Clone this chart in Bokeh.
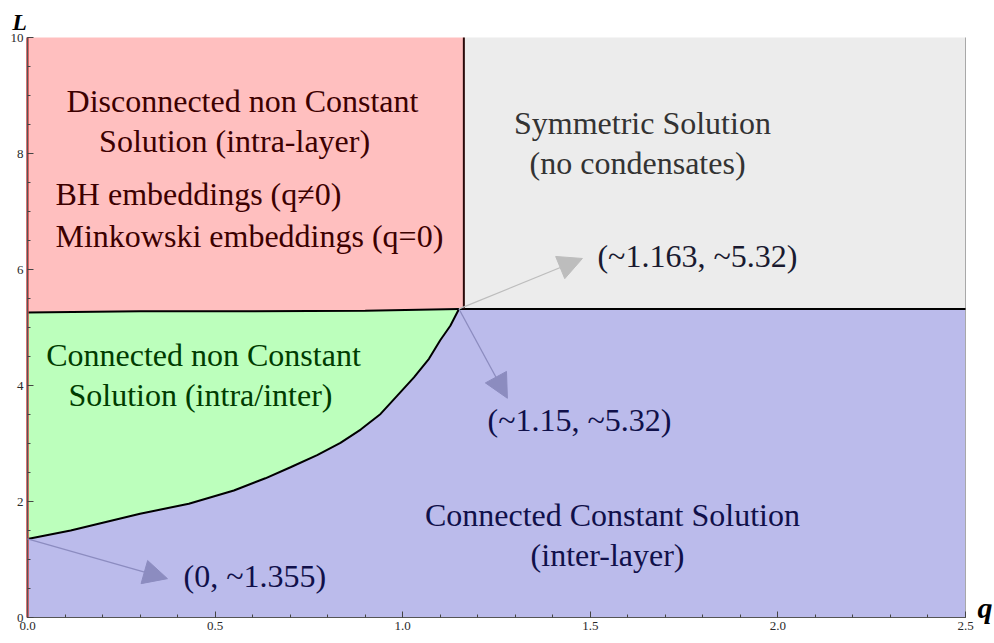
from bokeh.plotting import figure
from bokeh.models import (Range1d, SingleIntervalTicker, PrintfTickFormatter,
                          Label, Arrow, NormalHead)
from bokeh.embed import file_html
from bokeh.resources import INLINE

# ---- data ----
Q_MAX = 2.5
L_MAX = 10.0
q_vertical = 1.163          # red / grey boundary
L_horizontal = 5.32         # grey / blue boundary
q_triple = 1.15             # triple point

# top of the green (connected non-constant) region
green_top_q = [0.0, 0.3, 0.6, 0.9, 1.15]
green_top_L = [5.26, 5.28, 5.28, 5.29, 5.32]

# lower boundary of the green region (from q=0 up to the triple point)
curve_q = [0.0, 0.115, 0.30, 0.43, 0.55, 0.634, 0.701, 0.772, 0.834, 0.888,
           0.941, 0.985, 1.03, 1.07, 1.10, 1.127, 1.15]
curve_L = [1.355, 1.50, 1.79, 1.96, 2.19, 2.40, 2.59, 2.80, 3.01, 3.24,
           3.51, 3.82, 4.14, 4.46, 4.78, 5.03, 5.32]

# arrows: (start q, start L, end q, end L)
arrow_origin = [(0.0, 1.355, 0.373, 0.67),
                (1.15, 5.32, 1.479, 6.19),
                (1.15, 5.32, 1.279, 3.78)]
arrow_colors = ["#8c8cc0", "#bdbdbd", "#8c8cbf"]

# ---- figure: the frame covers the whole canvas, axes sit at q=0 / L=0 ----
W, H = 994, 643
PX_Q = 375.2     # pixels per unit q
PX_L = 58.0      # pixels per unit L
q_lo = -27 / PX_Q
L_lo = -26 / PX_L
p = figure(width=W, height=H, output_backend="svg", toolbar_location=None,
           x_range=Range1d(q_lo, q_lo + W / PX_Q),
           y_range=Range1d(L_lo, L_lo + H / PX_L),
           min_border=0, min_border_left=0, min_border_right=0,
           min_border_top=0, min_border_bottom=0)
p.grid.visible = False
p.background_fill_color = "white"
p.border_fill_color = "white"
p.outline_line_color = None

# regions
blue_q = [0.0, Q_MAX, Q_MAX] + curve_q[::-1]
blue_L = [0.0, 0.0, L_horizontal] + curve_L[::-1]
p.patch(blue_q, blue_L, fill_color="#bbbbeb", line_color=None)

grey_q = [q_vertical, Q_MAX, Q_MAX, q_vertical]
grey_L = [L_horizontal, L_horizontal, L_MAX, L_MAX]
p.patch(grey_q, grey_L, fill_color="#ececec", line_color=None)

red_q = green_top_q + [q_vertical, q_vertical, 0.0]
red_L = green_top_L + [L_horizontal, L_MAX, L_MAX]
p.patch(red_q, red_L, fill_color="#ffbfbf", line_color=None)

green_q = curve_q + green_top_q[::-1]
green_L = curve_L + green_top_L[::-1]
p.patch(green_q, green_L, fill_color="#bcffbc", line_color=None)

# frame edge on the right
p.line([Q_MAX, Q_MAX], [0, L_MAX], line_color="#a8a8a8", line_width=1)

# boundaries
p.line(curve_q, curve_L, line_color="black", line_width=2)
p.line(green_top_q, green_top_L, line_color="black", line_width=2)
p.line([q_triple, Q_MAX], [L_horizontal, L_horizontal], line_color="black", line_width=2)
p.line([q_vertical, q_vertical], [L_horizontal, L_MAX], line_color="#2a0a0a", line_width=2)
p.line([0, 0], [0, L_MAX], line_color="#c84646", line_width=2.5)

# arrows
for (x0, y0, x1, y1), c in zip(arrow_origin, arrow_colors):
    p.add_layout(Arrow(x_start=x0, y_start=y0, x_end=x1, y_end=y1,
                       line_color=c, line_width=1.3,
                       end=NormalHead(size=24, fill_color=c, line_color=c)))

# axes
p.xaxis.fixed_location = 0
p.yaxis.fixed_location = 0
p.xaxis.bounds = (0, Q_MAX)
p.yaxis.bounds = (0, L_MAX)
for ax in (p.xaxis[0], p.yaxis[0]):
    ax.major_tick_in = 6
    ax.major_tick_out = 0
    ax.minor_tick_in = 3
    ax.minor_tick_out = 0
    ax.major_tick_line_color = "#444444"
    ax.minor_tick_line_color = "#444444"
    ax.axis_line_color = "#555555"
    ax.major_label_text_font = "Liberation Serif"
    ax.major_label_text_font_size = "13px"
    ax.major_label_text_color = "#2a2a2a"
    ax.major_label_standoff = 4

p.xaxis.ticker = SingleIntervalTicker(interval=0.5, num_minor_ticks=5)
p.xaxis.formatter = PrintfTickFormatter(format="%.1f")
p.yaxis.ticker = SingleIntervalTicker(interval=2, num_minor_ticks=4)
p.yaxis.formatter = PrintfTickFormatter(format="%d")

# texts
FONT = "Liberation Serif"
SIZE = "32px"
texts = [
    ("Disconnected non Constant", 0.573, 8.91, "center", "#3c0000"),
    ("Solution (intra-layer)", 0.552, 8.22, "center", "#3c0000"),
    ("BH embeddings (q\u22600)", 0.0746, 7.31, "left", "#3c0000"),
    ("Minkowski embeddings (q=0)", 0.0746, 6.57, "left", "#3c0000"),
    ("Symmetric Solution", 1.639, 8.52, "center", "#333333"),
    ("(no condensates)", 1.626, 7.83, "center", "#333333"),
    ("(~1.163, ~5.32)", 1.519, 6.24, "left", "#1a1a30"),
    ("Connected non Constant", 0.469, 4.52, "center", "#003c00"),
    ("Solution (intra/inter)", 0.461, 3.83, "center", "#003c00"),
    ("(~1.15, ~5.32)", 1.226, 3.40, "left", "#10104a"),
    ("Connected Constant Solution", 1.559, 1.76, "center", "#10104a"),
    ("(inter-layer)", 1.546, 1.07, "center", "#10104a"),
    ("(0, ~1.355)", 0.416, 0.707, "left", "#10104a"),
]
for t, x, y, al, c in texts:
    p.add_layout(Label(x=x, y=y, text=t, text_font=FONT, text_font_size=SIZE,
                       text_align=al, text_baseline="middle", text_color=c))

# axis titles
p.add_layout(Label(x=-0.0213, y=10.26, text="L", text_font=FONT, text_font_size="24px",
                   text_font_style="bold italic", text_align="center",
                   text_baseline="alphabetic", text_color="black"))
p.add_layout(Label(x=2.572, y=0.17, text="q", text_font=FONT, text_font_size="30px",
                   text_font_style="bold italic", text_align="right",
                   text_baseline="alphabetic", text_color="black"))

open("out.html", "w").write(file_html(p, INLINE))
